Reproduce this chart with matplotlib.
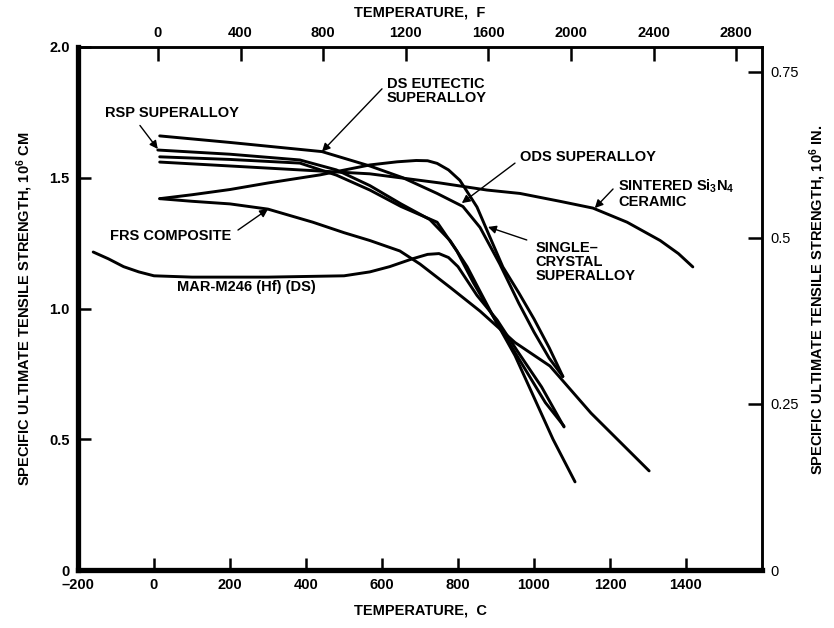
import matplotlib
matplotlib.use('Agg')
import matplotlib.pyplot as plt

plt.rcParams['font.family'] = ['Liberation Sans', 'DejaVu Sans']
plt.rcParams['mathtext.fontset'] = 'custom'
plt.rcParams['mathtext.rm'] = 'Liberation Sans:bold'
plt.rcParams['mathtext.bf'] = 'Liberation Sans:bold'
plt.rcParams['mathtext.it'] = 'Liberation Sans:bold'

# ---------------- data (temperature in C, specific strength in 10^6 cm) ----------------
mar_t = [-160, -120, -80, -40, 0, 100, 300, 500, 568, 620, 680, 720, 750, 775, 800, 850, 903, 955, 1020, 1079]
mar_v = [1.216, 1.19, 1.16, 1.14, 1.125, 1.12, 1.12, 1.125, 1.14, 1.16, 1.19, 1.207, 1.21, 1.195, 1.16, 1.05, 0.956, 0.84, 0.70, 0.547]

frs_t = [15, 100, 200, 300, 418, 500, 568, 647, 700, 780, 858, 950, 1042, 1150, 1240, 1303]
frs_v = [1.42, 1.41, 1.40, 1.38, 1.33, 1.29, 1.26, 1.22, 1.17, 1.08, 0.99, 0.87, 0.78, 0.60, 0.47, 0.379]

sin_t = [15, 200, 384, 568, 753, 876, 963, 1068, 1155, 1245, 1332, 1380, 1418]
sin_v = [1.56, 1.545, 1.53, 1.515, 1.48, 1.453, 1.44, 1.41, 1.384, 1.33, 1.26, 1.21, 1.159]

sc_t = [15, 100, 200, 300, 437, 568, 640, 690, 720, 745, 775, 805, 850, 884, 918, 960, 1000, 1040, 1076]
sc_v = [1.42, 1.435, 1.455, 1.48, 1.511, 1.549, 1.561, 1.566, 1.565, 1.555, 1.53, 1.49, 1.388, 1.273, 1.159, 1.06, 0.96, 0.85, 0.74]

ods_t = [15, 200, 442, 568, 655, 745, 813, 858, 910, 960, 1000, 1040, 1076]
ods_v = [1.66, 1.635, 1.60, 1.545, 1.50, 1.44, 1.39, 1.31, 1.17, 1.02, 0.91, 0.81, 0.74]

rsp_t = [10, 200, 384, 480, 568, 650, 726, 779, 824, 860, 900, 950, 1000, 1050, 1108]
rsp_v = [1.606, 1.59, 1.568, 1.53, 1.47, 1.40, 1.34, 1.26, 1.16, 1.06, 0.95, 0.82, 0.66, 0.50, 0.337]

dse_t = [15, 200, 384, 480, 568, 650, 745, 797, 840, 880, 930, 980, 1030, 1079]
dse_v = [1.58, 1.57, 1.556, 1.51, 1.453, 1.39, 1.33, 1.22, 1.10, 1.00, 0.88, 0.76, 0.64, 0.55]

curves_t = [mar_t, frs_t, sin_t, sc_t, ods_t, rsp_t, dse_t]
curves_v = [mar_v, frs_v, sin_v, sc_v, ods_v, rsp_v, dse_v]

xticks_c = [-200, 0, 200, 400, 600, 800, 1000, 1200, 1400]
xtick_labels = ['\u2013200', '0', '200', '400', '600', '800', '1000', '1200', '1400']
yticks_cm = [0, 0.5, 1.0, 1.5, 2.0]
ytick_labels = ['0', '0.5', '1.0', '1.5', '2.0']
xticks_f = [0, 400, 800, 1200, 1600, 2000, 2400, 2800]
yticks_in = [0, 0.25, 0.5, 0.75]
ytick_in_labels = ['0', '0.25', '0.5', '0.75']

FS = 10.5

# ---------------- figure ----------------
fig = plt.figure(figsize=(8.34, 6.28), dpi=100)
ax = fig.add_axes([78/834, 1-570/628, (762-78)/834, (570-47)/628])
ax.set_xlim(-200, 1600)
ax.set_ylim(0, 2.0)

for t, v in zip(curves_t, curves_v):
    ax.plot(t, v, color='black', lw=2.1, solid_capstyle='round', solid_joinstyle='round')

ax.set_xticks(xticks_c)
ax.set_xticklabels(xtick_labels, fontweight='bold', fontsize=FS)
ax.set_yticks(yticks_cm)
ax.set_yticklabels(ytick_labels, fontweight='bold', fontsize=FS)
ax.tick_params(axis='both', direction='in', length=9, width=1.8, pad=6)

for s in ['left', 'bottom']:
    ax.spines[s].set_linewidth(3.8)
for s in ['top', 'right']:
    ax.spines[s].set_linewidth(1.8)

ax.set_xlabel('TEMPERATURE,  C', fontweight='bold', fontsize=FS, labelpad=8)
ax.set_ylabel('SPECIFIC ULTIMATE TENSILE STRENGTH, 10$^{6}$ CM', fontweight='bold', fontsize=FS, labelpad=10)

# top axis: Fahrenheit (as drawn on the original)
def c2f(c):
    return (c - 10.5) * 1.8403
def f2c(f):
    return f / 1.8403 + 10.5

secx = ax.secondary_xaxis('top', functions=(c2f, f2c))
secx.set_xticks(xticks_f)
secx.set_xticklabels([str(f) for f in xticks_f], fontweight='bold', fontsize=FS)
secx.tick_params(direction='in', length=10, width=1.8, pad=5)
secx.spines['top'].set_linewidth(1.8)
secx.set_xlabel('TEMPERATURE,  F', fontweight='bold', fontsize=FS, labelpad=7)

secy = ax.secondary_yaxis('right', functions=(lambda v: v / 2.54, lambda v: v * 2.54))
secy.set_yticks(yticks_in)
secy.set_yticklabels(ytick_in_labels, fontsize=FS)
secy.tick_params(direction='in', length=10, width=1.8, pad=6)
secy.spines['right'].set_linewidth(1.8)
fig.text(818/834, 1-300/628, 'SPECIFIC ULTIMATE TENSILE STRENGTH, 10$^{6}$ IN.', fontsize=FS,
         fontweight='bold', rotation=90, ha='center', va='center')

# ---------------- annotations ----------------
ap = dict(arrowstyle='-|>', color='black', lw=1.0, mutation_scale=12, shrinkA=0, shrinkB=0)
tk = dict(fontsize=FS, fontweight='bold', color='black')

ax.text(-129, 1.748, 'RSP SUPERALLOY', va='center', ha='left', **tk)
ax.annotate('', xy=(10, 1.61), xytext=(-37, 1.70), arrowprops=ap)

ax.text(613, 1.832, 'DS EUTECTIC\nSUPERALLOY', va='center', ha='left', linespacing=1.0, **tk)
ax.annotate('', xy=(442, 1.60), xytext=(600, 1.84), arrowprops=ap)

ax.text(-116, 1.277, 'FRS COMPOSITE', va='center', ha='left', **tk)
ax.annotate('', xy=(300, 1.38), xytext=(221, 1.30), arrowprops=ap)

ax.text(60, 1.082, 'MAR-M246 (Hf) (DS)', va='center', ha='left', **tk)

ax.text(963, 1.579, 'ODS SUPERALLOY', va='center', ha='left', **tk)
ax.annotate('', xy=(810, 1.403), xytext=(950, 1.556), arrowprops=ap)

ax.text(1221, 1.44, 'SINTERED Si$_3$N$_4$\nCERAMIC', va='center', ha='left', linespacing=1.05, **tk)
ax.annotate('', xy=(1160, 1.384), xytext=(1208, 1.457), arrowprops=ap)

ax.text(1003, 1.178, 'SINGLE\u2013\nCRYSTAL\nSUPERALLOY', va='center', ha='left', linespacing=1.0, **tk)
ax.annotate('', xy=(879, 1.312), xytext=(981, 1.262), arrowprops=ap)

fig.savefig('out.png', dpi=100)
